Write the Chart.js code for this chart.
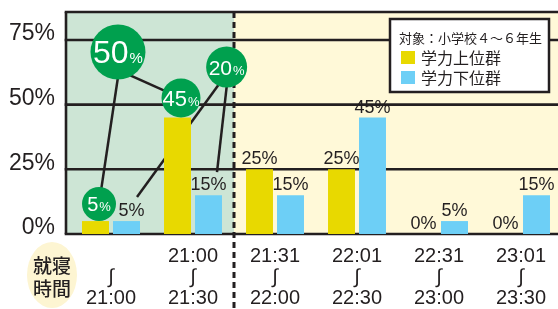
<!DOCTYPE html>
<html><head><meta charset="utf-8">
<script src="https://cdn.jsdelivr.net/npm/chart.js@4/dist/chart.umd.min.js"></script>
<style>html,body{margin:0;padding:0;overflow:hidden;background:#fff;width:558px;height:309px}canvas{display:block}</style>
</head><body>
<canvas id="c" width="562" height="309"></canvas>
<script>
// ---- data ----
const startTimes = ['', '21:00', '21:31', '22:01', '22:31', '23:01'];
const endTimes = ['21:00', '21:30', '22:00', '22:30', '23:00', '23:30'];
const upperGroup = [5, 45, 25, 25, 0, 0];   // 学力上位群 (%)
const lowerGroup = [5, 15, 15, 45, 5, 15];  // 学力下位群 (%)
const seriesNames = ['学力上位群', '学力下位群'];
const yTickValues = [0, 25, 50, 75];
const legendTitle = '対象：小学校４～６年生';
const axisTitle = ['就寝', '時間'];
const calloutUpperTotal = 50; // 上位群 ～21:30
const calloutLowerTotal = 20; // 下位群 ～21:30

const INK = '#231f20';
const GREEN = '#00a04e';
const labels = startTimes.map((s, i) => [s, '∫', endTimes[i]]);

function P(chart, xv, yv) {
  const x = chart.scales.x, y = chart.scales.y;
  const x0 = x.getPixelForValue(0), w = x.getPixelForValue(1) - x0;
  return [x0 + xv * w, y.getPixelForValue(yv)];
}
function line(ctx, a, b) {
  ctx.beginPath(); ctx.moveTo(a[0], a[1]); ctx.lineTo(b[0], b[1]); ctx.stroke();
}
function bubble(ctx, c, r, num, numSize, pctSize) {
  ctx.fillStyle = GREEN;
  ctx.beginPath(); ctx.arc(c[0], c[1], r, 0, Math.PI * 2); ctx.fill();
  ctx.fillStyle = '#fff';
  ctx.textBaseline = 'alphabetic'; ctx.textAlign = 'left';
  ctx.font = numSize + 'px "Liberation Sans", Arial, sans-serif';
  const wn = ctx.measureText(String(num)).width;
  ctx.font = pctSize + 'px "Liberation Sans", Arial, sans-serif';
  const wp = ctx.measureText('%').width;
  const sx = c[0] - (wn + wp + 1) / 2;
  const by = c[1] + numSize * 0.36;
  ctx.font = numSize + 'px "Liberation Sans", Arial, sans-serif';
  ctx.fillText(String(num), sx, by);
  ctx.font = pctSize + 'px "Liberation Sans", Arial, sans-serif';
  ctx.fillText('%', sx + wn + 1, by);
}

const decor = {
  id: 'decor',
  beforeDraw(chart) {
    const { ctx, chartArea: a, scales: { x } } = chart;
    const left = a.left - 4;
    const divX = (x.getPixelForValue(1) + x.getPixelForValue(2)) / 2;
    ctx.save();
    ctx.fillStyle = '#cde5d5';
    ctx.fillRect(left, a.top, divX - left, a.bottom - a.top);
    ctx.fillStyle = '#fff9d8';
    ctx.fillRect(divX, a.top, a.right - divX, a.bottom - a.top);
    // axis title ellipse
    const ex = a.left - 18, ey = a.bottom + 41;
    ctx.fillStyle = '#fdf5d2';
    ctx.beginPath(); ctx.ellipse(ex, ey, 25, 33, 0, 0, Math.PI * 2); ctx.fill();
    ctx.fillStyle = INK;
    ctx.font = '500 19px "Noto Sans CJK JP", sans-serif';
    ctx.textAlign = 'center'; ctx.textBaseline = 'middle';
    ctx.fillText(axisTitle[0], ex, ey - 9);
    ctx.fillText(axisTitle[1], ex, ey + 14);
    ctx.restore();
  },
  beforeDatasetsDraw(chart) {
    const { ctx, chartArea: a, scales: { x, y } } = chart;
    const left = a.left - 4;
    ctx.save();
    ctx.strokeStyle = INK; ctx.lineWidth = 2.6;
    yTickValues.forEach(v => { const yy = y.getPixelForValue(v); line(ctx, [left - 1.3, yy], [a.right, yy]); });
    line(ctx, [left - 1.3, a.top], [a.right, a.top]);
    line(ctx, [left, a.top], [left, a.bottom]);
    // dashed divider
    const divX = (x.getPixelForValue(1) + x.getPixelForValue(2)) / 2;
    ctx.lineWidth = 3; ctx.setLineDash([6, 4]);
    line(ctx, [divX, a.top], [divX, chart.height]);
    ctx.setLineDash([]);
    // connector lines
    const m0 = chart.getDatasetMeta(0).data, m1 = chart.getDatasetMeta(1).data;
    const c5 = [m0[0].x + 3.5, m0[0].y - 17];
    const c45 = [m0[1].x + 3.5, m0[1].y - 19.5];
    ctx.lineWidth = 2.5;
    line(ctx, P(chart, 0.098, 63.4), c5);
    line(ctx, P(chart, 0.085, 63.4), c45);
    line(ctx, P(chart, 1.354, 59.5), [m1[0].x + 10.5, m1[0].y - 24]);
    line(ctx, P(chart, 1.427, 61.5), [m1[1].x + 8.5, m1[1].y - 23]);
    ctx.restore();
  },
  afterDatasetsDraw(chart) {
    const { ctx, chartArea: a } = chart;
    ctx.save();
    const metas = [chart.getDatasetMeta(0).data, chart.getDatasetMeta(1).data];
    const vals = [upperGroup, lowerGroup];
    ctx.fillStyle = INK;
    ctx.font = '18px "Liberation Sans", Arial, sans-serif';
    ctx.textAlign = 'center'; ctx.textBaseline = 'alphabetic';
    vals.forEach((arr, d) => arr.forEach((v, i) => {
      if (d === 0 && i < 2) return; // shown as green callouts
      const b = metas[d][i];
      const shift = (d === 1 && i === 0) ? 5 : 0; // keep clear of the 5% bubble
      ctx.fillText(v + '%', b.x + shift, b.y - 5);
    }));
    // callout bubbles
    const m0 = metas[0];
    bubble(ctx, [m0[0].x + 3.5, m0[0].y - 17], 17, upperGroup[0], 20, 13);
    bubble(ctx, [m0[1].x + 3.5, m0[1].y - 19.5], 19.5, upperGroup[1], 22, 13);
    bubble(ctx, P(chart, 0.085, 70.35), 27.5, calloutUpperTotal, 32, 15);
    bubble(ctx, P(chart, 1.41, 64.55), 20.5, calloutLowerTotal, 21, 13);
    // legend box
    const lx = a.right - 172, ly = a.top + 7, lw = 159, lh = 73;
    ctx.fillStyle = '#fff'; ctx.fillRect(lx, ly, lw, lh);
    ctx.strokeStyle = INK; ctx.lineWidth = 2.5; ctx.strokeRect(lx, ly, lw, lh);
    ctx.fillStyle = INK; ctx.textAlign = 'left'; ctx.textBaseline = 'middle';
    ctx.font = '13px "Noto Sans CJK JP", sans-serif';
    ctx.fillText(legendTitle, lx + 9, ly + 19);
    chart.data.datasets.forEach((ds, i) => {
      const iy = ly + 32 + i * 20;
      ctx.fillStyle = ds.backgroundColor; ctx.fillRect(lx + 11, iy, 14, 13);
      ctx.fillStyle = INK;
      ctx.font = '16px "Noto Sans CJK JP", sans-serif';
      ctx.fillText(ds.label, lx + 31, iy + 7);
    });
    ctx.restore();
  }
};

new Chart(document.getElementById('c'), {
  type: 'bar',
  data: {
    labels: labels,
    datasets: [
      { label: seriesNames[0], data: upperGroup, backgroundColor: '#e8d900', categoryPercentage: 0.756, barPercentage: 0.87 },
      { label: seriesNames[1], data: lowerGroup, backgroundColor: '#6dcff6', categoryPercentage: 0.756, barPercentage: 0.87 }
    ]
  },
  options: {
    responsive: false, animation: false, devicePixelRatio: 1,
    layout: { padding: { top: 12, left: 0, right: 0, bottom: 0 } },
    plugins: { legend: { display: false }, tooltip: { enabled: false } },
    scales: {
      x: {
        grid: { display: false, drawTicks: false }, border: { display: false },
        ticks: { color: INK, autoSkip: false, maxRotation: 0, padding: 12,
          font: { family: '"Liberation Sans", Arial, sans-serif', size: 20, lineHeight: 1.05 } },
        afterFit(s) { s.height = 75; s.paddingLeft = 0; s.paddingRight = 0; }
      },
      y: {
        min: 0, max: 85.8,
        grid: { display: false, drawTicks: false }, border: { display: false },
        afterBuildTicks(s) { s.ticks = yTickValues.map(v => ({ value: v })); },
        ticks: { color: INK, padding: 15, labelOffset: -6, callback: v => v + '%',
          font: { family: '"Liberation Sans", Arial, sans-serif', size: 23 } },
        afterFit(s) { s.width = 70; s.paddingTop = 0; s.paddingBottom = 0; }
      }
    }
  },
  plugins: [decor]
});
</script>
</body></html>
